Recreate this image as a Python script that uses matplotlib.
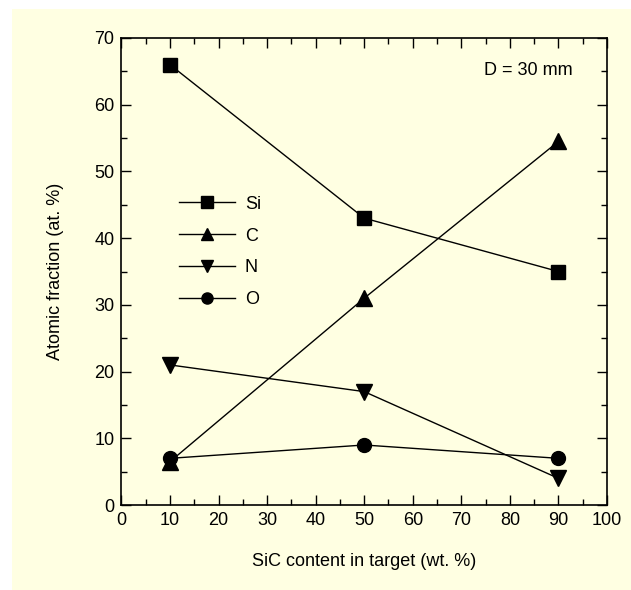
import matplotlib
matplotlib.use('Agg')
import matplotlib.pyplot as plt
from matplotlib.patches import Rectangle
from matplotlib.ticker import MultipleLocator

plt.rcParams['font.family'] = ['Liberation Sans', 'DejaVu Sans']

# data
sic = [10, 50, 90]
si = [66, 43, 35]
c = [6.5, 31, 54.5]
n = [21, 17, 4]
o = [7, 9, 7]

series = [('Si', si, 's', 10.5), ('C', c, '^', 11), ('N', n, 'v', 11), ('O', o, 'o', 10)]

bg = '#FFFFE2'

fig = plt.figure(figsize=(6.31, 5.90), dpi=100)
fig.patch.set_facecolor('white')
# yellow panel behind everything
fig.patches.append(Rectangle((12/631, 0), 1 - 12/631, 1 - 9/590,
                             transform=fig.transFigure, facecolor=bg,
                             edgecolor='none', zorder=-10))

ax = fig.add_axes([0.1924, 0.144, 0.962 - 0.1924, 0.9356 - 0.144])
ax.set_facecolor(bg)

for name, vals, mk, ms in series:
    ax.plot(sic, vals, '-', color='black', lw=1, marker=mk, ms=ms,
            mfc='black', mec='black', label=name, clip_on=False)

ax.set_xlim(0, 100)
ax.set_ylim(0, 70)
ax.xaxis.set_major_locator(MultipleLocator(10))
ax.xaxis.set_minor_locator(MultipleLocator(5))
ax.yaxis.set_major_locator(MultipleLocator(10))
ax.yaxis.set_minor_locator(MultipleLocator(5))
ax.tick_params(which='both', direction='in', top=True, right=True,
               width=1, labelsize=13, pad=5)
ax.tick_params(which='major', length=7)
ax.tick_params(which='minor', length=4)
for sp in ax.spines.values():
    sp.set_linewidth(1.2)

ax.set_xlabel('SiC content in target (wt. %)', fontsize=13, labelpad=17)
ax.set_ylabel('Atomic fraction (at. %)', fontsize=13, labelpad=22)

ax.text(0.93, 0.93, 'D = 30 mm', transform=ax.transAxes, fontsize=13,
        ha='right', va='center')

leg = ax.legend(loc='upper left', bbox_to_anchor=(0.085, 0.697), frameon=False,
                fontsize=13, handlelength=3.1, markerscale=0.8,
                labelspacing=0.82, handletextpad=0.55)

fig.savefig('out.png', dpi=100, facecolor=fig.get_facecolor())
